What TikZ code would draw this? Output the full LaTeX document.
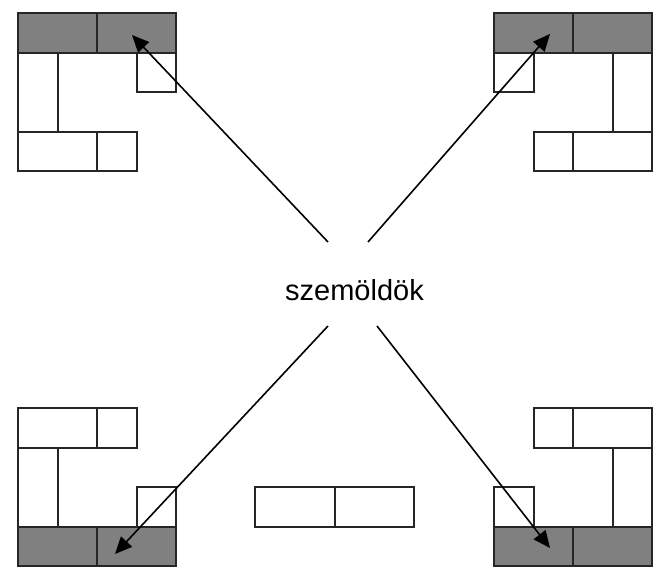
\documentclass[tikz,border=0pt]{standalone}
\usepackage{fontspec}
\setmainfont{Liberation Sans}
\usetikzlibrary{arrows.meta}
\tikzset{
  block/.style={draw=black!85,line width=1.7pt,line join=miter},
  darkblock/.style={block,fill=black!50},
  pointer/.style={draw=black,line width=1.6pt,-{Triangle[length=17pt,width=15pt]}}
}
\begin{document}
\begin{tikzpicture}[x=1pt,y=1pt,yscale=-1]
\useasboundingbox (0,0) rectangle (662,569);

%Top left corner
\draw [darkblock] (18,13) rectangle (97,53);
\draw [darkblock] (97,13) rectangle (176,53);
\draw [block] (137,53) rectangle (176,92);
\draw [block] (18,53) rectangle (58,132);
\draw [block] (18,132) rectangle (97,171);
\draw [block] (97,132) rectangle (137,171);

%Top right corner
\draw [darkblock] (494,13) rectangle (573,53);
\draw [darkblock] (573,13) rectangle (652,53);
\draw [block] (494,53) rectangle (534,92);
\draw [block] (613,53) rectangle (652,132);
\draw [block] (534,132) rectangle (573,171);
\draw [block] (573,132) rectangle (652,171);

%Bottom left corner
\draw [block] (18,408) rectangle (97,448);
\draw [block] (97,408) rectangle (137,448);
\draw [block] (18,448) rectangle (58,527);
\draw [block] (137,487) rectangle (176,527);
\draw [darkblock] (18,527) rectangle (97,566);
\draw [darkblock] (97,527) rectangle (176,566);

%Bottom right corner
\draw [block] (534,408) rectangle (573,448);
\draw [block] (573,408) rectangle (652,448);
\draw [block] (613,448) rectangle (652,527);
\draw [block] (494,487) rectangle (534,527);
\draw [darkblock] (494,527) rectangle (573,566);
\draw [darkblock] (573,527) rectangle (652,566);

%Middle
\draw [block] (255,487) rectangle (335,527);
\draw [block] (335,487) rectangle (414,527);

% Text Node
\node (label) at (354.5,290) [font=\fontsize{29pt}{34pt}\selectfont] {szemöldök};

% Arrow ends
\coordinate (startTL) at (328,242);
\coordinate (startTR) at (368,242);
\coordinate (startBL) at (328,326);
\coordinate (startBR) at (377,326);
\coordinate (tipTL) at (132,35);
\coordinate (tipTR) at (550,34);
\coordinate (tipBL) at (115,554);
\coordinate (tipBR) at (550,548);

\draw [pointer] (startTL) -- (tipTL);
\draw [pointer] (startTR) -- (tipTR);
\draw [pointer] (startBL) -- (tipBL);
\draw [pointer] (startBR) -- (tipBR);

\end{tikzpicture}
\end{document}
